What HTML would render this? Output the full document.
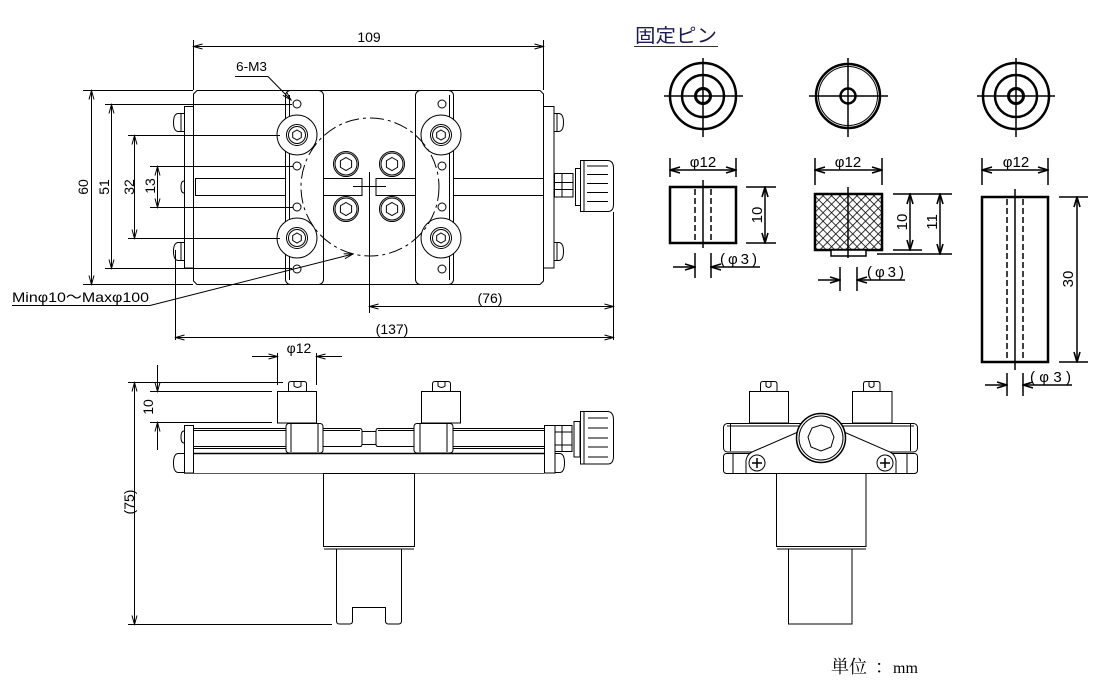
<!DOCTYPE html>
<html><head><meta charset="utf-8"><title>drawing</title>
<style>
html,body{margin:0;padding:0;background:#fff;width:1100px;height:700px;overflow:hidden}
svg{display:block}
text{font-family:"Liberation Sans","Noto Sans CJK JP",sans-serif;fill:#000;stroke:none}
</style></head><body>
<svg width="1100" height="700" viewBox="0 0 1100 700" xmlns="http://www.w3.org/2000/svg">
<defs>
<marker id="a" viewBox="-11 -5 12 10" refX="0" refY="0" markerWidth="12" markerHeight="10" markerUnits="userSpaceOnUse" orient="auto-start-reverse">
<path d="M-9,-2.5 L0,0 L-9,2.5" fill="none" stroke="#000" stroke-width="1"/>
</marker>
<marker id="b" viewBox="-12 -6 13 12" refX="0" refY="0" markerWidth="13" markerHeight="12" markerUnits="userSpaceOnUse" orient="auto-start-reverse">
<path d="M-10,-3 L0,0 L-10,3" fill="none" stroke="#000" stroke-width="1.6"/>
</marker>
<pattern id="kn" width="6" height="6" patternUnits="userSpaceOnUse" patternTransform="rotate(45)">
<rect width="6" height="6" fill="#fff"/>
<path d="M0,0 V6 M0,0 H6" stroke="#000" stroke-width="1.5"/>
</pattern>
<g id="wa">
<circle r="20" fill="#fff"/><circle r="10.5"/><circle r="8.5"/>
<polygon points="0,-5 4.3,-2.5 4.3,2.5 0,5 -4.3,2.5 -4.3,-2.5"/>
</g>
<g id="hb">
<circle r="12.5" fill="#fff"/><circle r="11"/>
<polygon points="0,-6.5 5.6,-3.25 5.6,3.25 0,6.5 -5.6,3.25 -5.6,-3.25"/>
</g>
</defs>

<!-- ================= TOP VIEW ================= -->
<g fill="none" stroke="#000" stroke-width="1">
<path d="M197,90.5 H540 L543.5,94 V281 L540,284.5 H197 L193.5,281 V94 Z"/>
<rect x="184.5" y="106.5" width="9" height="161.5"/>
<rect x="543.5" y="106.5" width="10.5" height="161.5"/>
<path d="M184,113.5 H178 Q173.5,114 173.5,122.5 Q173.5,131 178,131.5 H184 M181,114 V131"/>
<path d="M184,242.5 H178 Q173.5,243 173.5,251.5 Q173.5,260 178,260.5 H184 M181,243 V260"/>
<path d="M554,113.5 H559 Q563.5,114 563.5,122.5 Q563.5,131 559,131.5 H554 M557,114 V131"/>
<path d="M554,242.5 H559 Q563.5,243 563.5,251.5 Q563.5,260 559,260.5 H554 M557,243 V260"/>
<path d="M184,181 Q181,181 181,187 Q181,193 184,193"/>
<rect x="195.5" y="178.5" width="90" height="17"/>
<rect x="323.5" y="178.5" width="38.5" height="17"/>
<rect x="376" y="178.5" width="39.5" height="17"/>
<rect x="453.5" y="178.5" width="90" height="17"/>
<rect x="554.5" y="173.5" width="18.5" height="23.5"/>
<path d="M562,174 V197 M555,182.5 H573 M555,189.5 H573"/>
<rect x="575.5" y="168.5" width="5" height="37"/>
<path d="M580.5,160.5 H608 Q613.5,161 613.5,168 V204 Q613.5,211.5 608,211.5 H580.5 Z"/>
<path d="M587,166 H608 M587,174.5 H608 M587,183.5 H608 M587,192.5 H608 M587,201.5 H608 M584,161 V211"/>
<rect x="285.5" y="90.5" width="38" height="194" rx="5" fill="#fff"/>
<path d="M289.5,95 V280"/>
<rect x="415.5" y="90.5" width="38" height="194" rx="5" fill="#fff"/>
<path d="M449.5,95 V280"/>
<use href="#wa" x="297" y="135"/>
<use href="#wa" x="297" y="238"/>
<use href="#wa" x="441" y="135"/>
<use href="#wa" x="441" y="238"/>
<circle cx="297" cy="104" r="4"/><circle cx="297" cy="166" r="4"/>
<circle cx="297" cy="207" r="4"/><circle cx="297" cy="269" r="4"/>
<circle cx="442" cy="104" r="4"/><circle cx="442" cy="166" r="4"/>
<circle cx="442" cy="207" r="4"/><circle cx="442" cy="269" r="4"/>
<use href="#hb" x="346" y="164"/>
<use href="#hb" x="392" y="164"/>
<use href="#hb" x="346" y="209"/>
<use href="#hb" x="392" y="209"/>
<circle cx="370" cy="187" r="69" stroke-dasharray="14 4 3 4"/>
<path d="M369.5,172 V313 M353,186.5 H386"/>

<path d="M193.5,40 V90 M543.5,40 V90"/>
<line x1="193.5" y1="46.5" x2="543.5" y2="46.5" marker-start="url(#a)" marker-end="url(#a)"/>
<path d="M83,90.5 H193 M83,284.5 H193"/>
<line x1="91.5" y1="90.5" x2="91.5" y2="284.5" marker-start="url(#a)" marker-end="url(#a)"/>
<path d="M105,104.5 H292 M105,268.5 H292"/>
<line x1="111.5" y1="104.5" x2="111.5" y2="268.5" marker-start="url(#a)" marker-end="url(#a)"/>
<path d="M128,135.5 H280 M128,238.5 H280"/>
<line x1="134.5" y1="135.5" x2="134.5" y2="238.5" marker-start="url(#a)" marker-end="url(#a)"/>
<path d="M150,166.5 H293 M150,207.5 H293"/>
<line x1="157.5" y1="166.5" x2="157.5" y2="207.5" marker-start="url(#a)" marker-end="url(#a)"/>
<path d="M613.5,212 V340 M175.5,250 V340"/>
<line x1="369.5" y1="306.5" x2="613.5" y2="306.5" marker-start="url(#a)" marker-end="url(#a)"/>
<line x1="175.5" y1="337.5" x2="613.5" y2="337.5" marker-start="url(#a)" marker-end="url(#a)"/>
<path d="M235,76.5 H268"/>
<line x1="268" y1="76.5" x2="291" y2="100" marker-end="url(#a)"/>
<path d="M12,305.5 H150"/>
<line x1="150" y1="305.5" x2="353" y2="254" marker-end="url(#a)"/>
</g>
<text x="369" y="42" font-size="14" text-anchor="middle">109</text>
<text x="490" y="303" font-size="14" text-anchor="middle">(76)</text>
<text x="392" y="334" font-size="14" text-anchor="middle">(137)</text>
<text transform="translate(83,187) rotate(-90)" x="0" y="5" font-size="14" text-anchor="middle">60</text>
<text transform="translate(104,187) rotate(-90)" x="0" y="5" font-size="14" text-anchor="middle">51</text>
<text transform="translate(129,187) rotate(-90)" x="0" y="5" font-size="14" text-anchor="middle">32</text>
<text transform="translate(150,186) rotate(-90)" x="0" y="5" font-size="14" text-anchor="middle">13</text>
<text x="236" y="71" font-size="13" textLength="31" lengthAdjust="spacingAndGlyphs">6-M3</text>
<text x="12" y="302" font-size="14" textLength="137" lengthAdjust="spacingAndGlyphs">Minφ10～Maxφ100</text>

<!-- ================= PINS ================= -->
<text x="635" y="42" font-size="19" textLength="82" lengthAdjust="spacingAndGlyphs" style="fill:#1c1c50">固定ピン</text>
<line x1="634" y1="46.5" x2="718" y2="46.5" stroke="#333" stroke-width="1"/>
<g fill="none" stroke="#000" stroke-width="2.5">
<circle cx="703" cy="96" r="33"/><circle cx="703" cy="96" r="21"/><circle cx="703" cy="96" r="7.5" stroke-width="3"/>
<circle cx="848" cy="96" r="32"/><circle cx="848" cy="96" r="29.5" stroke-width="1"/><circle cx="848" cy="96" r="7.5"/>
<circle cx="1016" cy="96" r="33"/><circle cx="1016" cy="96" r="21"/><circle cx="1016" cy="96" r="7.5" stroke-width="3"/>
<g stroke-width="1.5">
<path d="M664,96 H743 M703,58 V137"/>
<path d="M809,96 H888 M848,58 V137"/>
<path d="M977,96 H1055 M1016,58 V137"/>
</g>
<rect x="670" y="187" width="66" height="56"/>
<path d="M695,189 V241 M711,189 V241" stroke-width="1.5" stroke-dasharray="6 3"/>
<g stroke-width="1.5">
<path d="M703,180 V248"/>
<path d="M670,158 V177 M736,158 V177"/>
<line x1="670" y1="170" x2="736" y2="170" marker-start="url(#b)" marker-end="url(#b)"/>
<path d="M746,187 H776 M746,243 H776"/>
<line x1="765" y1="187" x2="765" y2="243" marker-start="url(#b)" marker-end="url(#b)"/>
<path d="M695,253 V278 M711,253 V278"/>
<line x1="673" y1="267" x2="695" y2="267" marker-end="url(#b)"/>
<line x1="760" y1="267" x2="711" y2="267" marker-end="url(#b)"/>
</g>
<rect x="815" y="194" width="67" height="56" fill="url(#kn)"/>
<g stroke-width="1.5">
<rect x="831" y="250" width="35" height="6" fill="#fff"/>
<path d="M848,187 V258"/>
<path d="M815,158 V185 M882,158 V185"/>
<line x1="815" y1="170" x2="882" y2="170" marker-start="url(#b)" marker-end="url(#b)"/>
<path d="M893,194 H952 M893,250 H922 M877,254 H952"/>
<line x1="910" y1="194" x2="910" y2="250" marker-start="url(#b)" marker-end="url(#b)"/>
<line x1="940" y1="194" x2="940" y2="254" marker-start="url(#b)" marker-end="url(#b)"/>
<path d="M840,267 V291 M857,267 V291"/>
<line x1="818" y1="280" x2="840" y2="280" marker-end="url(#b)"/>
<line x1="905" y1="280" x2="857" y2="280" marker-end="url(#b)"/>
</g>
<rect x="982" y="197" width="66" height="165"/>
<path d="M1007,199 V360 M1023,199 V360" stroke-width="1.5" stroke-dasharray="6 3"/>
<g stroke-width="1.5">
<path d="M1015,189 V370"/>
<path d="M982,158 V185 M1048,158 V185"/>
<line x1="982" y1="170" x2="1048" y2="170" marker-start="url(#b)" marker-end="url(#b)"/>
<path d="M1059,197 H1088 M1059,362 H1088"/>
<line x1="1077" y1="197" x2="1077" y2="362" marker-start="url(#b)" marker-end="url(#b)"/>
<path d="M1007,373 V396 M1023,373 V396"/>
<line x1="985" y1="385" x2="1007" y2="385" marker-end="url(#b)"/>
<line x1="1072" y1="385" x2="1023" y2="385" marker-end="url(#b)"/>
</g>
</g>
<text x="703" y="167" font-size="15" text-anchor="middle">φ12</text>
<text x="848" y="167" font-size="15" text-anchor="middle">φ12</text>
<text x="1016" y="167" font-size="15" text-anchor="middle">φ12</text>
<text transform="translate(757,215) rotate(-90)" x="0" y="5" font-size="15" text-anchor="middle">10</text>
<text transform="translate(902,222) rotate(-90)" x="0" y="5" font-size="15" text-anchor="middle">10</text>
<text transform="translate(932,222) rotate(-90)" x="0" y="5" font-size="15" text-anchor="middle">11</text>
<text transform="translate(1068,279) rotate(-90)" x="0" y="5" font-size="15" text-anchor="middle">30</text>
<text x="720" y="264" font-size="15" textLength="37" lengthAdjust="spacing">(φ3)</text>
<text x="867" y="277" font-size="15" textLength="37" lengthAdjust="spacing">(φ3)</text>
<text x="1030" y="382" font-size="15" textLength="41" lengthAdjust="spacing">(φ3)</text>

<!-- ================= FRONT VIEW ================= -->
<g fill="none" stroke="#000" stroke-width="1">
<path d="M288.5,392 V384 Q288.5,381.5 291,381.5 H304 Q306.5,381.5 306.5,384 V392 M294,382 V386 Q297.5,389 301,386 V382"/>
<rect x="277.5" y="391.5" width="39" height="31.5"/>
<path d="M432.5,391 V384 Q432.5,381.5 435,381.5 H448 Q450.5,381.5 450.5,384 V391 M438,382 V386 Q441.5,389 445,386 V382"/>
<rect x="421.5" y="391.5" width="39" height="31.5"/>
<rect x="184.5" y="425.5" width="9" height="47.5"/>
<path d="M184,453.5 H178 Q173.5,454 173.5,463 Q173.5,472 178,472.5 H184"/>
<path d="M184,431 Q181,431 181,437 Q181,443 184,443"/>
<path d="M193.5,428.5 H286 M193.5,430.5 H286 M193.5,446.5 H286 M193.5,448.5 H286"/>
<path d="M323,428.5 H360 Q362,428.5 362,431 V444 Q362,446.5 360,446.5 H323 M323,430.5 H360"/>
<path d="M362,431.5 H376 M362,444.5 H376"/>
<path d="M414,428.5 H378 Q376,428.5 376,431 V444 Q376,446.5 378,446.5 H414 M414,430.5 H378"/>
<path d="M453,428.5 H544 M453,430.5 H544 M453,446.5 H544 M453,448.5 H544"/>
<path d="M193.5,453.5 H544" stroke-width="1.4"/>
<path d="M184,473.5 H544" stroke="#555"/>
<rect x="286" y="423.5" width="37" height="29.5" rx="3" fill="#fff"/>
<path d="M291,424 V452 M318,424 V452"/>
<rect x="414" y="423.5" width="39" height="29.5" rx="3" fill="#fff"/>
<path d="M420,424 V452 M447,424 V452"/>
<rect x="544.5" y="425.5" width="10.5" height="47.5"/>
<path d="M555,453.5 H560 Q564.5,454 564.5,463 Q564.5,472 560,472.5 H555"/>
<rect x="555" y="425.5" width="17" height="26"/>
<path d="M555,432 H572 M555,445 H572 M562,426 V451"/>
<rect x="574" y="421.5" width="6" height="35.5"/>
<path d="M580.5,411.5 H608 Q613.5,412 613.5,420 V456 Q613.5,464 608,464 H580.5 Z"/>
<path d="M588,418 H608 M588,428 H608 M588,438 H608 M588,447 H608 M588,457 H608 M584,412 V464"/>
<rect x="323.5" y="473.5" width="91" height="73"/>
<path d="M324,549 H414"/>
<path d="M336.5,549 V621 Q336.5,624 339.5,624 H349.5 Q352.5,624 352.5,621 V607.5 H385.5 V621 Q385.5,624 388.5,624 H398.5 Q401.5,624 401.5,621 V549"/>
<path d="M128,382.5 H283 M150,391.5 H272 M150,422.5 H272"/>
<line x1="157.5" y1="365" x2="157.5" y2="391.5" marker-end="url(#a)"/>
<line x1="157.5" y1="450" x2="157.5" y2="422.5" marker-end="url(#a)"/>
<line x1="134.5" y1="382.5" x2="134.5" y2="624.5" marker-start="url(#a)" marker-end="url(#a)"/>
<path d="M128,624.5 H332"/>
<line x1="252" y1="356.5" x2="277.5" y2="356.5" marker-end="url(#a)"/>
<line x1="342" y1="356.5" x2="316.5" y2="356.5" marker-end="url(#a)"/>
<path d="M277.5,353 V385 M316.5,353 V385"/>
</g>
<text transform="translate(148,407) rotate(-90)" x="0" y="5" font-size="14" text-anchor="middle">10</text>
<text transform="translate(129,502) rotate(-90)" x="0" y="5" font-size="14" text-anchor="middle">(75)</text>
<text x="299" y="353" font-size="14" text-anchor="middle">φ12</text>

<!-- ================= SIDE VIEW ================= -->
<g fill="none" stroke="#000" stroke-width="1">
<path d="M760.5,391 V384 Q760.5,381.5 763,381.5 H774.5 Q777,381.5 777,384 V391 M766,382 V386 Q768.5,389 771,386 V382"/>
<path d="M863.5,391 V384 Q863.5,381.5 866,381.5 H877.5 Q880,381.5 880,384 V391 M869,382 V386 Q871.5,389 874,386 V382"/>
<rect x="749.5" y="391.5" width="39" height="31.5"/>
<rect x="852.5" y="391.5" width="39.5" height="31.5"/>
<rect x="723.5" y="423.5" width="194" height="28.5" rx="4"/>
<path d="M730.5,424 V451 M910.5,424 V451 M727,426 H914"/>
<rect x="723.5" y="453.5" width="194" height="20" rx="3"/>
<path d="M733,454 V473 M907,454 V473"/>
<path d="M746,473.5 V463 A11,11 0 0 1 752,452 L798,432 L844,432 L890,452 A11,11 0 0 1 896,463 V473.5 Z" fill="#fff"/>
<circle cx="757" cy="463" r="8"/>
<path d="M757,458 V468 M752,463 H762" stroke-width="1.5"/>
<circle cx="885" cy="463" r="8"/>
<path d="M885,458 V468 M880,463 H890" stroke-width="1.5"/>
<circle cx="821" cy="438" r="24.5" fill="#fff" stroke-width="1.5"/>
<circle cx="821" cy="438" r="22"/>
<polygon points="821,425 830,428 834,437 831,447 821,451 811,447 808,437 812,428"/>
<rect x="776.5" y="473.5" width="89.5" height="73"/>
<path d="M777,549 H866"/>
<rect x="788.5" y="549" width="63.5" height="75"/>
</g>

<text x="831" y="673" font-size="18" style="font-family:'Liberation Serif','Noto Serif CJK SC',serif">単位</text>
<text x="875" y="673" font-size="18" style="font-family:'Liberation Serif','Noto Serif CJK SC',serif">：</text>
<text x="893" y="673" font-size="16" style="font-family:'Liberation Serif',serif">mm</text>
</svg>
</body></html>
